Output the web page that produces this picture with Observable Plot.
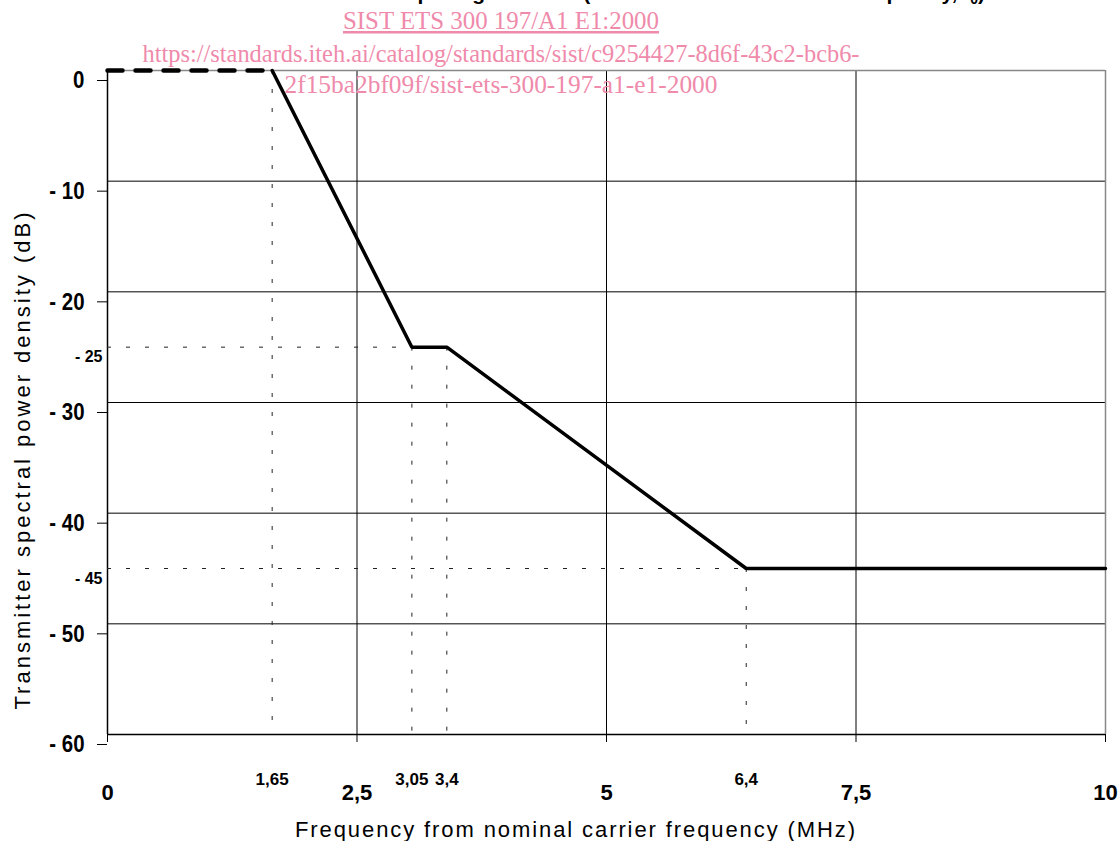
<!DOCTYPE html>
<html>
<head>
<meta charset="utf-8">
<script src="https://cdn.jsdelivr.net/npm/d3@7"></script>
<script src="https://cdn.jsdelivr.net/npm/@observablehq/plot@0.6"></script>
<style>
  html, body { margin: 0; padding: 0; background: #fff; overflow: hidden; }
  #chart { position: relative; width: 1120px; height: 841px; }
</style>
</head>
<body>
<div id="chart"></div>
<script>
// ---- data ----
const flatX = [0, 1.65];
const flatY = [0, 0];
const maskX = [1.65, 3.05, 3.4, 6.4, 10];
const maskY = [0, -25, -25, -45, -45];
const refVX = [1.65, 3.05, 3.4, 6.4];
const refVTop = [0, -25, -25, -45];
const refHY = [-25, -45];
const refHEnd = [3.05, 6.4];
const xMajor = [0, 2.5, 5, 7.5, 10];
const xMinor = [1.65, 3.05, 3.4, 6.4];
const yMajor = [0, -10, -20, -30, -40, -50, -60];
const yMinor = [-25, -45];
const xTitle = "Frequency from nominal carrier frequency (MHz)";
const yTitle = "Transmitter spectral power density (dB)";
const figTitle = "spacing of 7 MHz (relative to nominal carrier frequency, f";
const wm1 = "SIST ETS 300 197/A1 E1:2000";
const wm2 = "https://standards.iteh.ai/catalog/standards/sist/c9254427-8d6f-43c2-bcb6-";
const wm3 = "2f15ba2bf09f/sist-ets-300-197-a1-e1-2000";

const narrow = "'Liberation Sans Narrow', 'Arial Narrow', 'Liberation Sans', Arial, sans-serif";
const comma = d => String(d).replace(".", ",");
const yFmt = d => d === 0 ? "0" : "- " + Math.abs(d);

const refH = refHY.map((y, i) => ({y, x2: refHEnd[i]}));
const refV = refVX.map((x, i) => ({x, y1: refVTop[i]}));

const svg = Plot.plot({
  width: 1120,
  height: 841,
  marginLeft: 107,
  marginRight: 15,
  marginTop: 70,
  marginBottom: 107,
  style: {background: "#fff", overflow: "visible", color: "#000"},
  x: {domain: [0, 10]},
  y: {domain: [-60, 0]},
  marks: [
    Plot.gridY(yMajor.filter(d => d !== 0 && d !== -60), {stroke: "#000", strokeOpacity: 1, strokeWidth: 1}),
    Plot.gridX(xMajor.filter(d => d !== 0 && d !== 10), {stroke: "#000", strokeOpacity: 1, strokeWidth: 1}),
    Plot.ruleY([0], {stroke: "#888", strokeWidth: 1.5}),
    Plot.ruleX([10], {stroke: "#888", strokeWidth: 1.5}),
    Plot.ruleY([-60], {stroke: "#000", strokeWidth: 1.5}),
    Plot.ruleX([0], {stroke: "#000", strokeWidth: 1.5}),
    Plot.axisY({
      ticks: yMajor, tickSize: 10, tickPadding: 13, dy: 10,
      tickFormat: yFmt, fontSize: 24, fontWeight: "bold", fontFamily: narrow,
      label: null, stroke: "#000"
    }),
    Plot.axisX({
      ticks: xMajor, tickSize: 8, tickPadding: 42,
      tickFormat: comma, fontSize: 22, fontWeight: "bold", fontFamily: narrow,
      label: null, stroke: "#000"
    }),
    Plot.text(xMinor, {x: d => d, y: -60, text: comma, dy: 45, fontSize: 17, fontWeight: "bold", fontFamily: narrow, fill: "#000"}),
    Plot.text(yMinor, {x: 0, y: d => d, text: yFmt, dy: 10, dx: -5, textAnchor: "end", fontSize: 16, fontWeight: "bold", fontFamily: narrow, fill: "#000"}),
    Plot.ruleX(refV, {x: "x", y1: "y1", y2: -60, stroke: "#222", strokeWidth: 1, strokeDasharray: "4,15"}),
    Plot.ruleY(refH, {y: "y", x1: 0, x2: "x2", stroke: "#222", strokeWidth: 1, strokeDasharray: "4,15"}),
    Plot.line(flatX.map((x, i) => ({x, y: flatY[i]})), {x: "x", y: "y", stroke: "#000", strokeWidth: 4.5, strokeDasharray: "15,13"}),
    Plot.line(maskX.map((x, i) => ({x, y: maskY[i]})), {x: "x", y: "y", stroke: "#000", strokeWidth: 3.5, strokeLinejoin: "miter"})
  ]
});

document.getElementById("chart").appendChild(svg);

const s = d3.select(svg);
// condense the major y tick labels (the original uses a narrow face)
s.selectAll("text").each(function() {
  const el = this;
  if (el.getAttribute("font-size") === "24" || (el.parentNode && el.parentNode.getAttribute && el.parentNode.getAttribute("font-size") === "24")) {
    const len = el.getComputedTextLength();
    if (len > 0) {
      el.setAttribute("textLength", (len * 0.85).toFixed(1));
      el.setAttribute("lengthAdjust", "spacingAndGlyphs");
    }
  }
});
// axis titles
s.append("text")
  .attr("x", 575).attr("y", 837)
  .attr("text-anchor", "middle")
  .attr("font-family", "'Liberation Sans', Arial, sans-serif")
  .attr("font-size", 22)
  .attr("fill", "#000")
  .attr("textLength", 560).attr("lengthAdjust", "spacing")
  .text(xTitle);
s.append("text")
  .attr("transform", "translate(30,461) rotate(-90)")
  .attr("text-anchor", "middle")
  .attr("font-family", "'Liberation Sans', Arial, sans-serif")
  .attr("font-size", 22)
  .attr("fill", "#000")
  .attr("textLength", 497).attr("lengthAdjust", "spacing")
  .text(yTitle);
// cut-off figure title (only its lower edge is visible in the original)
const t = s.append("text")
  .attr("x", 985).attr("y", 0)
  .attr("text-anchor", "end")
  .attr("font-family", "'Liberation Sans', Arial, sans-serif")
  .attr("font-size", 21).attr("font-weight", "bold")
  .attr("fill", "#000");
t.append("tspan").text(figTitle);
t.append("tspan").attr("font-size", 14).attr("dy", 4).text("0");
t.append("tspan").attr("dy", -4).text(")");
// watermark
const wm = [[wm1, 29, 316, true], [wm2, 62, 717, false], [wm3, 93, 433, false]];
wm.forEach(([txt, y, len, ul]) => {
  s.append("text")
    .attr("x", 501).attr("y", y)
    .attr("text-anchor", "middle")
    .attr("font-family", "'Liberation Serif', 'Times New Roman', serif")
    .attr("font-size", 25)
    .attr("fill", "#ef8aab")
    .attr("textLength", len).attr("lengthAdjust", "spacingAndGlyphs")
    .attr("text-decoration", ul ? "underline" : null)
    .text(txt);
});
</script>
</body>
</html>
